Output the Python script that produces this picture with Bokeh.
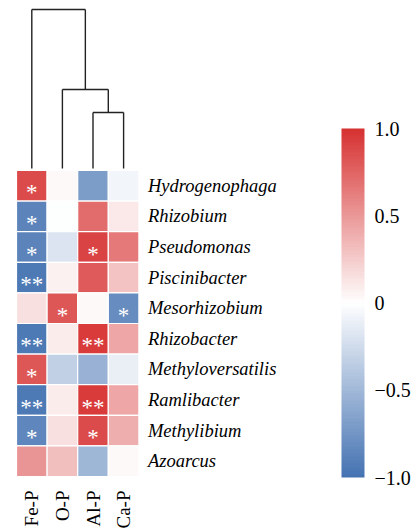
import numpy as np
from bokeh.plotting import figure
from bokeh.models import (ColumnDataSource, Range1d, LinearColorMapper, ColorBar,
                          FixedTicker)
from bokeh.core.properties import value
from bokeh.embed import file_html
from bokeh.resources import INLINE

# ---------------- data ----------------
phosphorus = ["Fe-P", "O-P", "Al-P", "Ca-P"]
genera = ["Hydrogenophaga", "Rhizobium", "Pseudomonas", "Piscinibacter", "Mesorhizobium",
          "Rhizobacter", "Methyloversatilis", "Ramlibacter", "Methylibium", "Azoarcus"]

fe_p = [0.88, -0.88, -0.88, -0.95, 0.15, -0.95, 0.82, -0.95, -0.85, 0.50]
o_p = [0.02, -0.02, -0.20, 0.07, 0.82, 0.08, -0.32, 0.08, 0.15, 0.30]
al_p = [-0.70, 0.70, 0.90, 0.78, 0.02, 0.95, -0.55, 0.95, 0.88, -0.52]
ca_p = [-0.08, 0.10, 0.65, 0.28, -0.82, 0.42, -0.12, 0.42, 0.38, 0.02]

sig_fe = ["*", "*", "*", "**", "", "**", "*", "**", "*", ""]
sig_o = ["", "", "", "", "*", "", "", "", "", ""]
sig_al = ["", "", "*", "", "", "**", "", "**", "*", ""]
sig_ca = ["", "", "", "", "*", "", "", "", "", ""]

# column dendrogram: merges (left child, right child, height); children >= 4 are earlier merges
merge_left = [2, 1, 0]
merge_right = [3, 4, 5]
merge_height = [0.56, 0.79, 1.59]

cbar_ticks = [-1.0, -0.5, 0.0, 0.5, 1.0]
cbar_labels = ["\u22121.0", "\u22120.5", "0", "0.5", "1.0"]

# ---------------- styling ----------------
W, H = 416, 530
CELL = 30.6
X0, Y0 = 16, 170   # heatmap top-left inside the canvas
serif = "Liberation Serif"

low_c = np.array([69, 115, 178])
mid_c = np.array([255, 255, 255])
high_c = np.array([215, 50, 50])
palette = []
for t in np.linspace(0, 1, 100):
    if t < 0.5:
        c = low_c + (mid_c - low_c) * (t / 0.5)
    else:
        c = mid_c + (high_c - mid_c) * ((t - 0.5) / 0.5)
    palette.append("#%02x%02x%02x" % tuple(int(round(v)) for v in c))
mapper = LinearColorMapper(palette=palette, low=-1, high=1)

p = figure(width=W, height=H, output_backend="svg", toolbar_location=None,
           min_border=0, outline_line_color=None,
           x_range=Range1d(-X0 / CELL, (W - X0) / CELL),
           y_range=Range1d((H - Y0) / CELL, -Y0 / CELL))
p.axis.visible = False
p.grid.visible = False
p.background_fill_color = "white"

# dendrogram range: value 0 at 2px above the heatmap, 100 px per unit
DPX = 100.0
d0 = Y0 - 2
p.extra_y_ranges = {"dend": Range1d(-(H - d0) / DPX, d0 / DPX)}

# ---------------- heatmap ----------------
cols = [fe_p, o_p, al_p, ca_p]
sigs = [sig_fe, sig_o, sig_al, sig_ca]
xs, ys, vals, stars = [], [], [], []
for ci, (colvals, colsig) in enumerate(zip(cols, sigs)):
    for ri, (v, s) in enumerate(zip(colvals, colsig)):
        xs.append(ci + 0.5)
        ys.append(ri + 0.5)
        vals.append(v)
        stars.append(s)
src = ColumnDataSource(dict(x=xs, y=ys, v=vals, s=stars))
p.rect(x="x", y="y", width=1, height=1, source=src,
       fill_color={"field": "v", "transform": mapper},
       line_color="white", line_width=1.2)
p.text(x="x", y="y", text="s", source=src, text_color="white",
       text_font=value(serif), text_font_size="23px", text_align="center",
       text_baseline="alphabetic", y_offset=7)

# row labels
p.text(x=[len(phosphorus)] * len(genera), y=[i + 0.5 for i in range(len(genera))],
       text=genera, text_font=value(serif), text_font_style="italic",
       text_font_size="18.5px", text_align="left", text_baseline="middle",
       x_offset=9, y_offset=0, text_color="black")

# column labels
p.text(x=[i + 0.5 for i in range(len(phosphorus))], y=[len(genera)] * len(phosphorus),
       text=phosphorus, angle=np.pi / 2, text_font=value(serif),
       text_font_size="19px", text_align="right", text_baseline="middle",
       y_offset=14, text_color="black")

# ---------------- dendrogram ----------------
node_x = {i: i + 0.5 for i in range(len(phosphorus))}
node_h = {i: 0.0 for i in range(len(phosphorus))}
seg_x0, seg_y0, seg_x1, seg_y1 = [], [], [], []
for k, (a, b, h) in enumerate(zip(merge_left, merge_right, merge_height)):
    xa, xb = node_x[a], node_x[b]
    seg_x0 += [xa, xb, xa]
    seg_y0 += [node_h[a], node_h[b], h]
    seg_x1 += [xa, xb, xb]
    seg_y1 += [h, h, h]
    nid = len(phosphorus) + k
    node_x[nid] = (xa + xb) / 2
    node_h[nid] = h
p.segment(x0=seg_x0, y0=seg_y0, x1=seg_x1, y1=seg_y1, y_range_name="dend",
          line_color="#222222", line_width=1.4)

# ---------------- colour bar ----------------
cb = ColorBar(color_mapper=mapper, location=(341, H - 477), width=23, height=349,
              padding=0, margin=0,
              ticker=FixedTicker(ticks=cbar_ticks),
              major_label_overrides={t: l for t, l in zip(cbar_ticks, cbar_labels)},
              major_label_text_font=serif, major_label_text_font_size="20px",
              major_label_text_color="black", label_standoff=10,
              major_tick_line_color=None, minor_tick_line_color=None,
              bar_line_color=None, border_line_color=None,
              background_fill_color=None)
p.add_layout(cb, "center")

open("out.html", "w").write(file_html(p, INLINE))
